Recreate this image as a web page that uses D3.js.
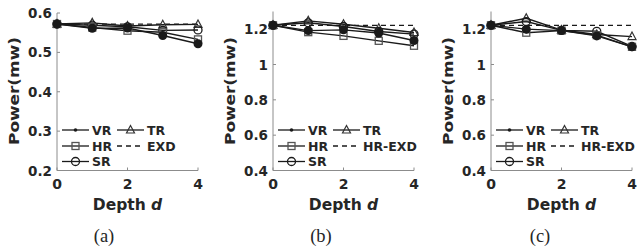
<!DOCTYPE html>
<html>
<head>
<meta charset="utf-8">
<script src="https://cdn.jsdelivr.net/npm/d3@7"></script>
<style>
    body { margin: 0; background: #fff; }
    svg { display: block; }
    text { fill: #262626; }
</style>
</head>
<body>
<svg id="chart" width="638" height="251"></svg>
<script>
const depth = [0, 1, 2, 3, 4];
const xTicks = [0, 2, 4];

// panel (a)
const aVR = [0.572, 0.561, 0.562, 0.543, 0.522];
const aHR = [0.572, 0.563, 0.555, 0.551, 0.533];
const aSR = [0.572, 0.569, 0.565, 0.556, 0.557];
const aTR = [0.572, 0.575, 0.567, 0.570, 0.571];
const aEXD = [0.572, 0.572, 0.572, 0.572, 0.572];
const aTicks = [0.2, 0.3, 0.4, 0.5, 0.6];

// panel (b)
const bVR = [1.222, 1.192, 1.196, 1.178, 1.136];
const bHR = [1.222, 1.183, 1.162, 1.134, 1.106];
const bSR = [1.222, 1.236, 1.215, 1.187, 1.172];
const bTR = [1.222, 1.247, 1.228, 1.205, 1.181];
const bEXD = [1.222, 1.222, 1.222, 1.222, 1.222];
const bTicks = [0.4, 0.6, 0.8, 1, 1.2];

// panel (c)
const cVR = [1.222, 1.200, 1.192, 1.162, 1.100];
const cHR = [1.222, 1.180, 1.192, 1.166, 1.100];
const cSR = [1.222, 1.243, 1.193, 1.188, 1.102];
const cTR = [1.222, 1.262, 1.195, 1.170, 1.158];
const cEXD = [1.222, 1.222, 1.222, 1.222, 1.222];
const cTicks = [0.4, 0.6, 0.8, 1, 1.2];

const svg = d3.select('#chart');
const ink = '#1a1a1a';
const axisGray = '#8c8c8c';

function marker(g, type, cx, cy, big) {
    if (type === 'dot') {
        g.append('circle').attr('cx', cx).attr('cy', cy).attr('r', big ? 4.5 : 1.8)
            .attr('fill', ink);
    } else if (type === 'square') {
        g.append('rect').attr('x', cx - 3.5).attr('y', cy - 3.5).attr('width', 7).attr('height', 7)
            .attr('fill', 'none').attr('stroke', '#555').attr('stroke-width', 1.3);
    } else if (type === 'circle') {
        g.append('circle').attr('cx', cx).attr('cy', cy).attr('r', 4)
            .attr('fill', 'none').attr('stroke', ink).attr('stroke-width', 1.3);
    } else if (type === 'tri') {
        g.append('path').attr('d', `M${cx},${cy - 4.5}L${cx + 4},${cy + 3}L${cx - 4},${cy + 3}Z`)
            .attr('fill', 'none').attr('stroke', '#333').attr('stroke-width', 1.2);
    }
}

function drawPanel(opt) {
    const x = d3.scaleLinear().domain([0, 4]).range([opt.left, opt.left + 141]);
    const y = d3.scaleLinear().domain(opt.yDomain).range([170.5, opt.yTop]);
    const g = svg.append('g');

    // axes
    g.append('line').attr('x1', x(0)).attr('x2', x(0)).attr('y1', y.range()[1]).attr('y2', y.range()[0])
        .attr('stroke', axisGray).attr('stroke-width', 1);
    g.append('line').attr('x1', x(0)).attr('x2', x(4)).attr('y1', y.range()[0]).attr('y2', y.range()[0])
        .attr('stroke', axisGray).attr('stroke-width', 1);

    opt.yTicks.forEach(t => {
        g.append('line').attr('x1', x(0)).attr('x2', x(0) + 3).attr('y1', y(t)).attr('y2', y(t))
            .attr('stroke', axisGray);
        g.append('text').attr('x', x(0) - 5).attr('y', y(t) + 5)
            .attr('text-anchor', 'end').attr('font-family', 'DejaVu Sans').attr('font-weight', 'bold')
            .attr('font-size', 13.5).text(d3.format('')(t));
    });
    xTicks.forEach(t => {
        g.append('line').attr('x1', x(t)).attr('x2', x(t)).attr('y1', y.range()[0]).attr('y2', y.range()[0] - 3)
            .attr('stroke', axisGray);
        g.append('text').attr('x', x(t)).attr('y', 188.5)
            .attr('text-anchor', 'middle').attr('font-family', 'DejaVu Sans').attr('font-weight', 'bold')
            .attr('font-size', 14).text(t);
    });

    // axis titles
    const yl = g.append('text')
        .attr('transform', `translate(${opt.left - 38.5},${91}) rotate(-90)`)
        .attr('text-anchor', 'middle').attr('font-family', 'DejaVu Sans').attr('font-weight', 'bold')
        .attr('font-size', 14.5).attr('textLength', 108).attr('lengthAdjust', 'spacingAndGlyphs');
    yl.text('Power(mw)');

    const xl = g.append('text').attr('x', x(2)).attr('y', 210)
        .attr('text-anchor', 'middle').attr('font-family', 'DejaVu Sans').attr('font-weight', 'bold')
        .attr('font-size', 15.5);
    xl.append('tspan').text('Depth ');
    xl.append('tspan').attr('font-style', 'italic').text('d');

    g.append('text').attr('x', opt.capX).attr('y', 242).attr('text-anchor', 'middle')
        .attr('font-family', 'Liberation Serif').attr('font-size', 18.5).text(opt.caption);

    // series
    const line = d3.line().x((d, i) => x(depth[i])).y(d => y(d));
    g.append('path').datum(opt.EXD).attr('d', line).attr('fill', 'none')
        .attr('stroke', ink).attr('stroke-width', 1.3).attr('stroke-dasharray', '5,4');

    const series = [
        { vals: opt.TR, m: 'tri' },
        { vals: opt.SR, m: 'circle' },
        { vals: opt.HR, m: 'square' },
        { vals: opt.VR, m: 'dot' }
    ];
    series.forEach(s => {
        g.append('path').datum(s.vals).attr('d', line).attr('fill', 'none')
            .attr('stroke', ink).attr('stroke-width', 1.4);
    });
    series.forEach(s => {
        s.vals.forEach((v, i) => marker(g, s.m, x(depth[i]), y(v), true));
    });

    // legend
    const lx = opt.left + 5;
    const rows = [
        { lx: lx, ly: 130, m: 'dot', label: 'VR' },
        { lx: lx, ly: 146, m: 'square', label: 'HR' },
        { lx: lx, ly: 161.5, m: 'circle', label: 'SR' },
        { lx: lx + 55, ly: 130, m: 'tri', label: 'TR' },
        { lx: lx + 55, ly: 146, m: 'dash', label: opt.exdLabel }
    ];
    rows.forEach(r => {
        g.append('line').attr('x1', r.lx).attr('x2', r.lx + 27).attr('y1', r.ly).attr('y2', r.ly)
            .attr('stroke', ink).attr('stroke-width', 1.3)
            .attr('stroke-dasharray', r.m === 'dash' ? '5,4' : null);
        if (r.m !== 'dash') marker(g, r.m, r.lx + 13.5, r.ly, false);
        g.append('text').attr('x', r.lx + 30).attr('y', r.ly + 4.5)
            .attr('font-family', 'DejaVu Sans').attr('font-weight', 'bold').attr('font-size', 12.5)
            .text(r.label);
    });
}

drawPanel({ left: 57, yDomain: [0.2, 0.6], yTop: 13, yTicks: aTicks, caption: '(a)', capX: 104,
    VR: aVR, HR: aHR, SR: aSR, TR: aTR, EXD: aEXD, exdLabel: 'EXD' });
drawPanel({ left: 273, yDomain: [0.4, 1.3], yTop: 11.5, yTicks: bTicks, caption: '(b)', capX: 321,
    VR: bVR, HR: bHR, SR: bSR, TR: bTR, EXD: bEXD, exdLabel: 'HR-EXD' });
drawPanel({ left: 491, yDomain: [0.4, 1.3], yTop: 11.5, yTicks: cTicks, caption: '(c)', capX: 540,
    VR: cVR, HR: cHR, SR: cSR, TR: cTR, EXD: cEXD, exdLabel: 'HR-EXD' });
</script>
</body>
</html>
